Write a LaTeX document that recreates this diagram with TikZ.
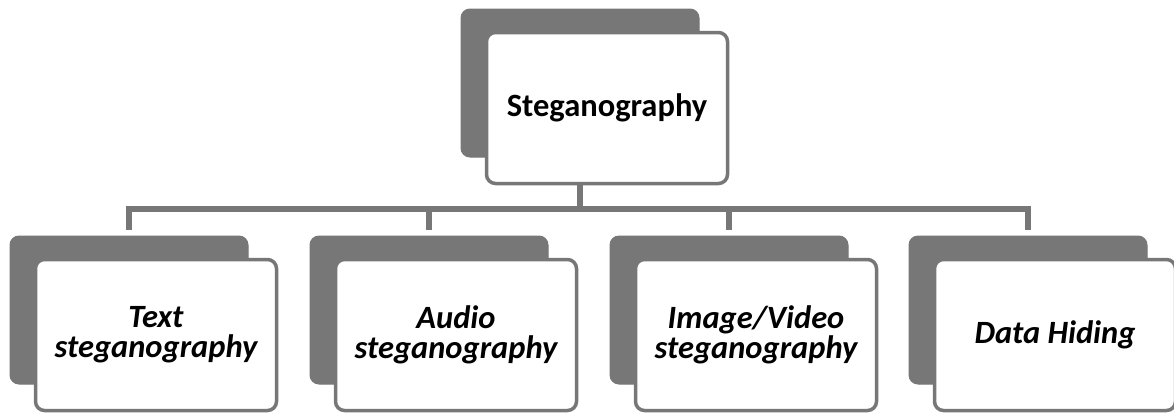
\documentclass[tikz,border=0pt]{standalone}
\usepackage{fontspec}
\setmainfont{Carlito}
\usetikzlibrary {positioning}
\usetikzlibrary{calc}

\definecolor{boxgray}{RGB}{119,119,119}

\begin{document}
\begin{tikzpicture}[x=1pt,y=-1pt,
    backbox/.style={draw=boxgray, fill=boxgray, line width=1pt, rounded corners=9pt,
      minimum width=238pt, minimum height=148pt, inner sep=0pt},
    frontbox/.style={draw=boxgray, fill=white, line width=3.5pt, rounded corners=9pt,
      minimum width=241pt, minimum height=151pt, inner sep=0pt, align=center,
      font=\fontsize{32.5}{30}\selectfont\bfseries\itshape},
    conn/.style={draw=boxgray, line width=5.5pt}]
  \useasboundingbox (0,0) rectangle (1174,413);

  % top box
  \node[backbox] (sb) at (580,83) {};
  \node[frontbox, font=\fontsize{32.5}{30}\selectfont\bfseries] (s) at ([shift={(27,25)}]sb) {Steganography};

  % the four kinds
  \foreach \i/\x/\txt in {1/129/{Text\\steganography}, 2/429/{Audio\\steganography},
      3/729/{Image/Video\\steganography}, 4/1028/{Data Hiding}}
    {\node[backbox] (b\i) at (\x,310) {};
     \node[frontbox] (f\i) at ([shift={(27,25)}]b\i) {\txt};}

  % connectors
  \coordinate (bus) at (0,209);
  \draw[conn] (sb |- s.south) -- (sb |- bus);
  \draw[conn] ([yshift=6pt]b1.north) -- (b1 |- bus) -- (b4 |- bus) -- ([yshift=6pt]b4.north);
  \foreach \i in {2,3}
    \draw[conn] (b\i |- bus) -- ([yshift=6pt]b\i.north);
\end{tikzpicture}
\end{document}
